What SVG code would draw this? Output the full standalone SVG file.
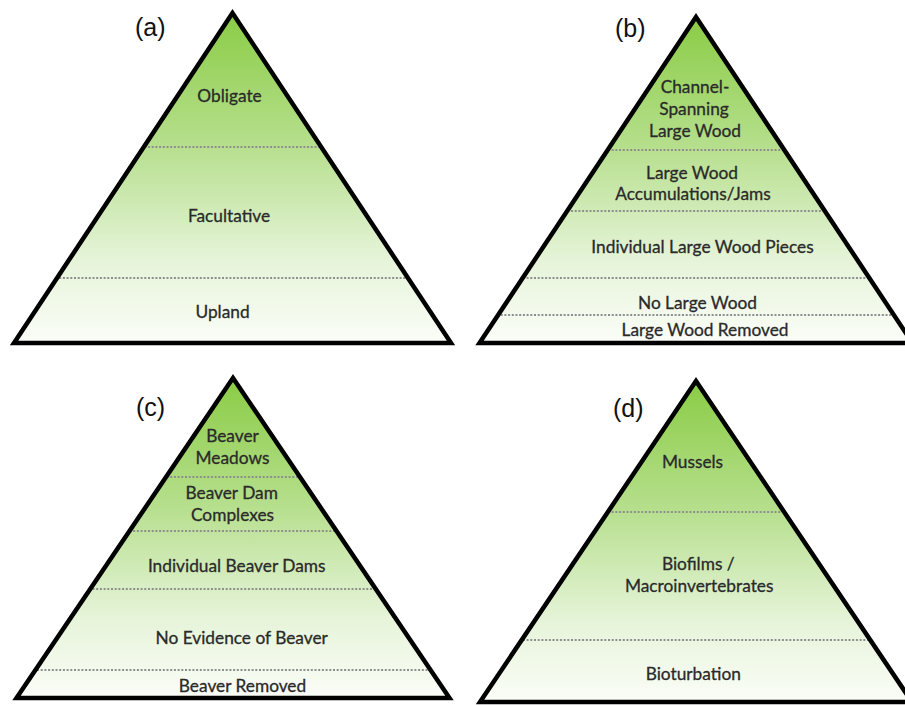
<svg xmlns="http://www.w3.org/2000/svg" width="905" height="705" viewBox="0 0 905 705">
<defs>
<linearGradient id="g" x1="0" y1="0" x2="0" y2="1">
<stop offset="0" stop-color="#8acc45"/>
<stop offset="0.4" stop-color="#b6df8d"/>
<stop offset="0.75" stop-color="#e6f4d9"/>
<stop offset="1" stop-color="#fbfdf8"/>
</linearGradient>
<clipPath id="ca"><path d="M232.5,13 L14,343 L451,343 Z"/></clipPath>
<clipPath id="cb"><path d="M696,17 L479.5,343 L912.5,343 Z"/></clipPath>
<clipPath id="cc"><path d="M233,378 L16.5,698 L449.5,698 Z"/></clipPath>
<clipPath id="cd"><path d="M696,381 L480,702 L912,702 Z"/></clipPath>
</defs>
<style>
.tri{fill:url(#g);stroke:none}
.edge{fill:none;stroke:#000;stroke-width:4.5;stroke-linejoin:miter}
.dot{stroke:#8e8e8e;stroke-width:1.9;stroke-dasharray:2 1.7;fill:none}
.t{font-family:Lato,"Open Sans","Liberation Sans",sans-serif;font-size:17.3px;fill:#2a2a2a;stroke:#2a2a2a;stroke-width:0.3;text-anchor:middle}
.lab{font-family:"Liberation Sans",Arial,sans-serif;font-size:25px;fill:#111}
</style>
<rect width="905" height="705" fill="#fff"/>

<g id="panel-a">
<path class="tri" d="M232.5,13 L14,343 L451,343 Z"/>
<g clip-path="url(#ca)">
<line class="dot" x1="0" y1="147" x2="460" y2="147"/>
<line class="dot" x1="0" y1="278" x2="460" y2="278"/>
</g>
<path class="edge" d="M232.5,13 L14,343 L451,343 Z"/>
<text class="t" x="229.5" y="102">Obligate</text>
<text class="t" x="229" y="222">Facultative</text>
<text class="t" x="222.5" y="318">Upland</text>
<text class="lab" x="135" y="36">(a)</text>
</g>

<g id="panel-b">
<path class="tri" d="M696,17 L479.5,343 L912.5,343 Z"/>
<g clip-path="url(#cb)">
<line class="dot" x1="460" y1="150" x2="905" y2="150"/>
<line class="dot" x1="460" y1="211" x2="905" y2="211"/>
<line class="dot" x1="460" y1="278" x2="905" y2="278"/>
<line class="dot" x1="460" y1="315" x2="905" y2="315"/>
</g>
<path class="edge" d="M696,17 L479.5,343 L912.5,343 Z"/>
<text class="t" x="695" y="93">Channel-</text>
<text class="t" x="694" y="115">Spanning</text>
<text class="t" x="695" y="137">Large Wood</text>
<text class="t" x="692" y="179">Large Wood</text>
<text class="t" x="693" y="200">Accumulations/Jams</text>
<text class="t" x="702.5" y="253">Individual Large Wood Pieces</text>
<text class="t" x="697.5" y="309">No Large Wood</text>
<text class="t" x="705" y="336">Large Wood Removed</text>
<text class="lab" x="615" y="37">(b)</text>
</g>

<g id="panel-c">
<path class="tri" d="M233,378 L16.5,698 L449.5,698 Z"/>
<g clip-path="url(#cc)">
<line class="dot" x1="0" y1="477" x2="460" y2="477"/>
<line class="dot" x1="0" y1="531" x2="460" y2="531"/>
<line class="dot" x1="0" y1="589" x2="460" y2="589"/>
<line class="dot" x1="0" y1="670" x2="460" y2="670"/>
</g>
<path class="edge" d="M233,378 L16.5,698 L449.5,698 Z"/>
<text class="t" x="232.5" y="442">Beaver</text>
<text class="t" x="232.5" y="464">Meadows</text>
<text class="t" x="231.7" y="499">Beaver Dam</text>
<text class="t" x="232.5" y="521">Complexes</text>
<text class="t" x="236.7" y="572">Individual Beaver Dams</text>
<text class="t" x="241.7" y="643.5">No Evidence of Beaver</text>
<text class="t" x="242.5" y="692">Beaver Removed</text>
<text class="lab" x="136" y="416">(c)</text>
</g>

<g id="panel-d">
<path class="tri" d="M696,381 L480,702 L912,702 Z"/>
<g clip-path="url(#cd)">
<line class="dot" x1="460" y1="512" x2="905" y2="512"/>
<line class="dot" x1="460" y1="640" x2="905" y2="640"/>
</g>
<path class="edge" d="M696,381 L480,702 L912,702 Z"/>
<text class="t" x="692.5" y="468">Mussels</text>
<text class="t" x="698.3" y="570">Biofilms /</text>
<text class="t" x="699.2" y="591.5">Macroinvertebrates</text>
<text class="t" x="693.3" y="680">Bioturbation</text>
<text class="lab" x="613" y="417">(d)</text>
</g>
</svg>
